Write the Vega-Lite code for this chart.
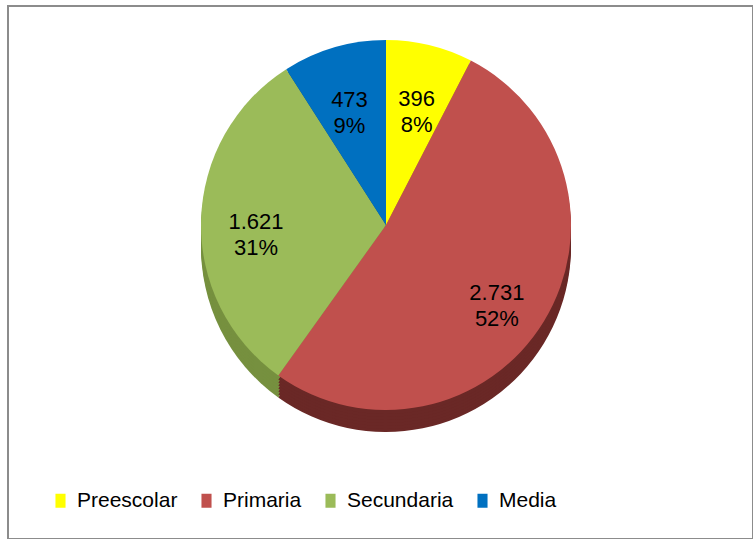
{
  "$schema": "https://vega.github.io/schema/vega-lite/v6.json",
  "width": 745,
  "height": 533,
  "autosize": "none",
  "padding": {"left": 8, "top": 6, "right": 0, "bottom": 0},
  "background": "white",
  "view": {"stroke": "#8c8c8c", "strokeWidth": 2},
  "config": {
    "view": {"stroke": "#8c8c8c", "strokeWidth": 2},
    "font": "Liberation Sans"
  },
  "data": {
    "values": [
      {"nivel": "Preescolar", "valor": 396, "orden": 1, "etiqueta": "396\n8%"},
      {"nivel": "Primaria", "valor": 2731, "orden": 2, "etiqueta": "2.731\n52%"},
      {"nivel": "Secundaria", "valor": 1621, "orden": 3, "etiqueta": "1.621\n31%"},
      {"nivel": "Media", "valor": 473, "orden": 4, "etiqueta": "473\n9%"}
    ]
  },
  "encoding": {
    "theta": {"field": "valor", "type": "quantitative", "stack": true},
    "order": {"field": "orden", "type": "quantitative"}
  },
  "layer": [
    {
      "encoding": {
        "color": {"field": "nivel", "type": "nominal", "legend": null, "scale": {"domain": ["Preescolar", "Primaria", "Secundaria", "Media"], "range": ["#b3b300", "#6a2826", "#76903f", "#004f88"]}}
      },
      "layer": [
        {"mark": {"type": "arc", "radius": 185, "x": 378, "y": 241}},
        {"mark": {"type": "arc", "radius": 185, "x": 378, "y": 238}},
        {"mark": {"type": "arc", "radius": 185, "x": 378, "y": 235}},
        {"mark": {"type": "arc", "radius": 185, "x": 378, "y": 232}},
        {"mark": {"type": "arc", "radius": 185, "x": 378, "y": 229}},
        {"mark": {"type": "arc", "radius": 185, "x": 378, "y": 226}},
        {"mark": {"type": "arc", "radius": 185, "x": 378, "y": 223}}
      ]
    },
    {
      "layer": [
        {
          "mark": {"type": "arc", "radius": 185, "x": 378, "y": 219},
          "encoding": {
            "color": {
              "field": "nivel", "type": "nominal",
              "scale": {"domain": ["Preescolar", "Primaria", "Secundaria", "Media"], "range": ["#FFFF00", "#C0504D", "#9BBB59", "#0070C0"]},
              "legend": {
                "title": null,
                "orient": "none",
                "direction": "horizontal",
                "legendX": 42,
                "legendY": 484,
                "padding": 0,
                "columnPadding": 18,
                "labelFont": "Liberation Sans",
                "labelFontSize": 21,
                "labelColor": "#000000",
                "labelOffset": 6,
                "labelLimit": 300,
                "symbolType": "M-0.72,-1H0.72V1H-0.72Z",
                "symbolSize": 196,
                "symbolStrokeWidth": 0,
                "symbolOpacity": 1
              }
            }
          }
        },
        {
          "mark": {"type": "text", "radius": 130, "x": 378, "y": 219, "fontSize": 22, "lineBreak": "\n", "lineHeight": 26, "color": "#000000", "font": "Liberation Sans"},
          "encoding": {
            "text": {"field": "etiqueta", "type": "nominal"}
          }
        }
      ]
    }
  ],
  "resolve": {"scale": {"color": "independent"}}
}
